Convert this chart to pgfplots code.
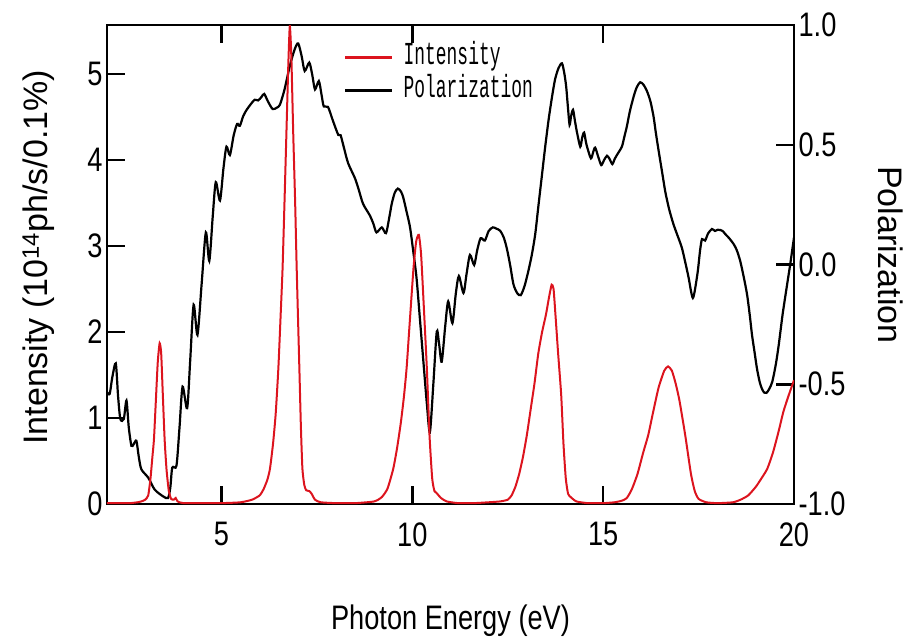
\documentclass[border=0pt]{standalone}
\usepackage{fontspec}
\setmainfont{Liberation Sans}
\newfontfamily\narrowfont[FakeStretch=0.8]{Liberation Sans}
\newfontfamily\legfont[FakeStretch=0.56]{Liberation Mono}
\usepackage{pgfplots}
\pgfplotsset{compat=1.18}
\definecolor{myred}{RGB}{220,20,30}

\begin{document}
\begin{tikzpicture}
\useasboundingbox (0,0) rectangle (906pt,641pt);
\pgfplotsset{
  myaxis/.style={
    at={(107pt,137pt)}, anchor=south west,
    scale only axis, width=687pt, height=479pt,
    xmin=2, xmax=20,
    line width=2.5pt,
    axis line style={line width=2.5pt},
    tick align=inside,
    major tick length=18pt,
    every tick/.style={black, line width=2.5pt},
    /pgf/number format/assume math mode=true,
    tick label style={font=\narrowfont\fontsize{34}{34}\selectfont},
  }
}
% Polarization (right axis)
\begin{axis}[myaxis,
  ymin=-1, ymax=1,
  axis y line*=right, axis x line=none,
  ytick={-1,-0.5,0,0.5,1},
  yticklabels={-1.0,-0.5,0.0,0.5,1.0},
  ylabel={Polarization},
  ylabel style={rotate=180, font=\fontsize{34}{40}\selectfont, at={(axis description cs:1.1223,0.52)}, anchor=base},
]
\addplot[black, line width=2.2pt, smooth, tension=0.45] coordinates {
(2.00,-0.533)(2.07,-0.54)(2.14,-0.47)(2.23,-0.413)(2.29,-0.55)(2.35,-0.645)(2.44,-0.645)(2.51,-0.568)(2.57,-0.68)(2.64,-0.757)(2.70,-0.75)(2.77,-0.736)(2.83,-0.80)(2.90,-0.855)(3.08,-0.89)(3.25,-0.94)(3.47,-0.968)(3.60,-0.975)(3.66,-0.93)(3.71,-0.848)(3.82,-0.84)(3.90,-0.68)(3.98,-0.51)(4.10,-0.60)(4.18,-0.40)(4.27,-0.168)(4.37,-0.294)(4.48,-0.08)(4.59,0.134)(4.68,0.015)(4.77,0.20)(4.85,0.344)(4.96,0.267)(5.05,0.40)(5.13,0.492)(5.22,0.457)(5.32,0.54)(5.41,0.587)(5.48,0.579)(5.57,0.62)(5.66,0.646)(5.77,0.67)(5.87,0.688)(5.96,0.685)(6.05,0.70)(6.12,0.712)(6.22,0.68)(6.34,0.649)(6.45,0.655)(6.53,0.667)(6.65,0.73)(6.79,0.829)(6.92,0.90)(7.01,0.923)(7.10,0.87)(7.18,0.808)(7.30,0.843)(7.38,0.79)(7.45,0.731)(7.55,0.766)(7.62,0.71)(7.68,0.66)(7.79,0.658)(7.92,0.60)(8.06,0.541)(8.12,0.54)(8.22,0.48)(8.32,0.422)(8.50,0.359)(8.60,0.31)(8.71,0.253)(8.89,0.204)(8.98,0.17)(9.06,0.134)(9.20,0.155)(9.31,0.131)(9.40,0.20)(9.46,0.253)(9.54,0.30)(9.62,0.317)(9.70,0.305)(9.76,0.281)(9.85,0.22)(9.94,0.155)(10.02,0.06)(10.11,-0.056)(10.20,-0.23)(10.29,-0.406)(10.38,-0.58)(10.46,-0.70)(10.55,-0.50)(10.64,-0.28)(10.70,-0.33)(10.77,-0.406)(10.86,-0.26)(10.94,-0.154)(11.05,-0.245)(11.14,-0.12)(11.22,-0.048)(11.34,-0.119)(11.42,-0.04)(11.51,0.04)(11.62,-0.002)(11.70,0.06)(11.79,0.11)(11.90,0.10)(12.00,0.14)(12.11,0.155)(12.20,0.15)(12.30,0.141)(12.39,0.115)(12.47,0.071)(12.56,0.00)(12.65,-0.083)(12.75,-0.12)(12.84,-0.128)(12.94,-0.09)(13.04,-0.027)(13.13,0.04)(13.22,0.127)(13.30,0.24)(13.39,0.365)(13.48,0.49)(13.57,0.604)(13.66,0.70)(13.74,0.773)(13.83,0.82)(13.92,0.84)(13.98,0.80)(14.03,0.744)(14.08,0.65)(14.12,0.583)(14.16,0.62)(14.21,0.646)(14.26,0.60)(14.31,0.555)(14.40,0.492)(14.45,0.53)(14.50,0.551)(14.55,0.51)(14.59,0.485)(14.68,0.443)(14.74,0.47)(14.79,0.488)(14.87,0.45)(14.95,0.415)(15.02,0.435)(15.10,0.454)(15.17,0.44)(15.24,0.419)(15.30,0.44)(15.36,0.457)(15.49,0.492)(15.55,0.53)(15.62,0.576)(15.70,0.64)(15.80,0.702)(15.88,0.74)(15.97,0.761)(16.06,0.75)(16.15,0.723)(16.24,0.68)(16.32,0.618)(16.38,0.55)(16.45,0.478)(16.54,0.39)(16.63,0.302)(16.73,0.23)(16.84,0.169)(16.95,0.12)(17.06,0.071)(17.15,0.01)(17.24,-0.056)(17.30,-0.11)(17.35,-0.14)(17.40,-0.11)(17.48,-0.027)(17.54,0.06)(17.59,0.106)(17.67,0.10)(17.75,0.13)(17.85,0.148)(17.93,0.14)(18.00,0.145)(18.07,0.144)(18.13,0.14)(18.20,0.127)(18.30,0.11)(18.42,0.085)(18.50,0.06)(18.59,0.015)(18.68,-0.05)(18.77,-0.125)(18.84,-0.21)(18.90,-0.294)(18.97,-0.37)(19.03,-0.435)(19.10,-0.49)(19.16,-0.519)(19.22,-0.535)(19.28,-0.536)(19.35,-0.52)(19.43,-0.49)(19.52,-0.42)(19.60,-0.336)(19.70,-0.21)(19.82,-0.083)(19.90,0.0)(20.00,0.113)
};
\end{axis}
% Intensity (left axis)
\begin{axis}[myaxis,
  ymin=0, ymax=5.57,
  xtick={5,10,15,20}, xtick pos=both, xticklabel pos=lower,
  xticklabel style={yshift=-14pt},
  ytick={0,1,2,3,4,5}, ytick pos=left, yticklabel pos=left,
  xlabel={Photon Energy (eV)},
  xlabel style={font=\narrowfont\fontsize{34}{40}\selectfont, at={(axis description cs:0.5,-0.261)}, anchor=base},
  ylabel={Intensity (10\textsuperscript{14}ph/s/0.1\%)},
  ylabel style={font=\fontsize{34}{40}\selectfont, at={(axis description cs:-0.0859,0.515)}, anchor=base},
  legend style={draw=none, fill=none, at={(axis description cs:0.3435,0.962)}, anchor=north west,
    font=\legfont\fontsize{32}{32}\selectfont, row sep=7pt, inner sep=0pt,
    nodes={inner xsep=10pt, inner ysep=1pt, text height=19pt, text depth=5pt}},
  legend cell align=left,
  legend image code/.code={\draw[#1, line width=2.5pt] (0pt,0pt) -- (47pt,0pt);},
]
\addplot[myred, line width=2pt, smooth, tension=0.35] coordinates {
(2.0,0.01)(2.3,0.01)(2.6,0.01)(2.8,0.02)(2.9,0.03)(3.0,0.05)(3.08,0.1)(3.14,0.3)(3.19,0.55)(3.23,0.75)(3.28,1.2)(3.33,1.65)(3.38,1.87)(3.42,1.75)(3.46,1.3)(3.51,0.75)(3.56,0.4)(3.62,0.15)(3.68,0.06)(3.75,0.05)(3.8,0.07)(3.85,0.03)(4.0,0.01)(4.5,0.01)(5.0,0.01)(5.5,0.02)(5.8,0.05)(6.0,0.1)(6.1,0.17)(6.2,0.28)(6.27,0.41)(6.35,0.7)(6.42,1.05)(6.49,1.58)(6.55,2.2)(6.6,2.74)(6.65,3.5)(6.7,4.3)(6.75,5.1)(6.79,5.56)(6.83,5.2)(6.88,4.3)(6.93,3.5)(6.97,2.74)(7.04,1.58)(7.08,0.9)(7.12,0.41)(7.17,0.22)(7.22,0.16)(7.3,0.15)(7.36,0.12)(7.45,0.05)(7.6,0.02)(8.0,0.01)(8.5,0.01)(9.0,0.03)(9.2,0.08)(9.35,0.18)(9.5,0.41)(9.6,0.65)(9.7,0.95)(9.78,1.25)(9.85,1.58)(9.93,2.1)(10.03,2.74)(10.1,3.05)(10.17,3.13)(10.23,2.9)(10.3,2.3)(10.38,1.58)(10.45,0.8)(10.52,0.3)(10.58,0.15)(10.65,0.12)(10.75,0.07)(10.9,0.03)(11.2,0.01)(11.6,0.01)(12.0,0.02)(12.3,0.03)(12.5,0.05)(12.6,0.1)(12.7,0.2)(12.8,0.35)(12.9,0.55)(13.0,0.8)(13.1,1.1)(13.2,1.4)(13.3,1.75)(13.4,2.0)(13.5,2.2)(13.58,2.4)(13.65,2.55)(13.7,2.5)(13.75,2.2)(13.82,1.75)(13.9,1.27)(13.96,0.7)(14.02,0.3)(14.08,0.12)(14.15,0.08)(14.3,0.03)(14.6,0.01)(15.0,0.01)(15.3,0.02)(15.5,0.04)(15.62,0.07)(15.75,0.17)(15.9,0.35)(16.05,0.6)(16.18,0.8)(16.3,1.05)(16.45,1.35)(16.6,1.55)(16.7,1.6)(16.8,1.55)(16.9,1.4)(17.0,1.2)(17.15,0.8)(17.3,0.35)(17.4,0.15)(17.5,0.06)(17.7,0.02)(18.0,0.01)(18.4,0.02)(18.6,0.05)(18.8,0.1)(19.0,0.2)(19.15,0.3)(19.3,0.41)(19.45,0.6)(19.6,0.85)(19.72,1.07)(19.85,1.25)(20.0,1.44)
};
\addlegendentry{Intensity}
\addlegendimage{black, line width=2.5pt}
\addlegendentry{Polarization}
\end{axis}
\end{tikzpicture}
\end{document}
